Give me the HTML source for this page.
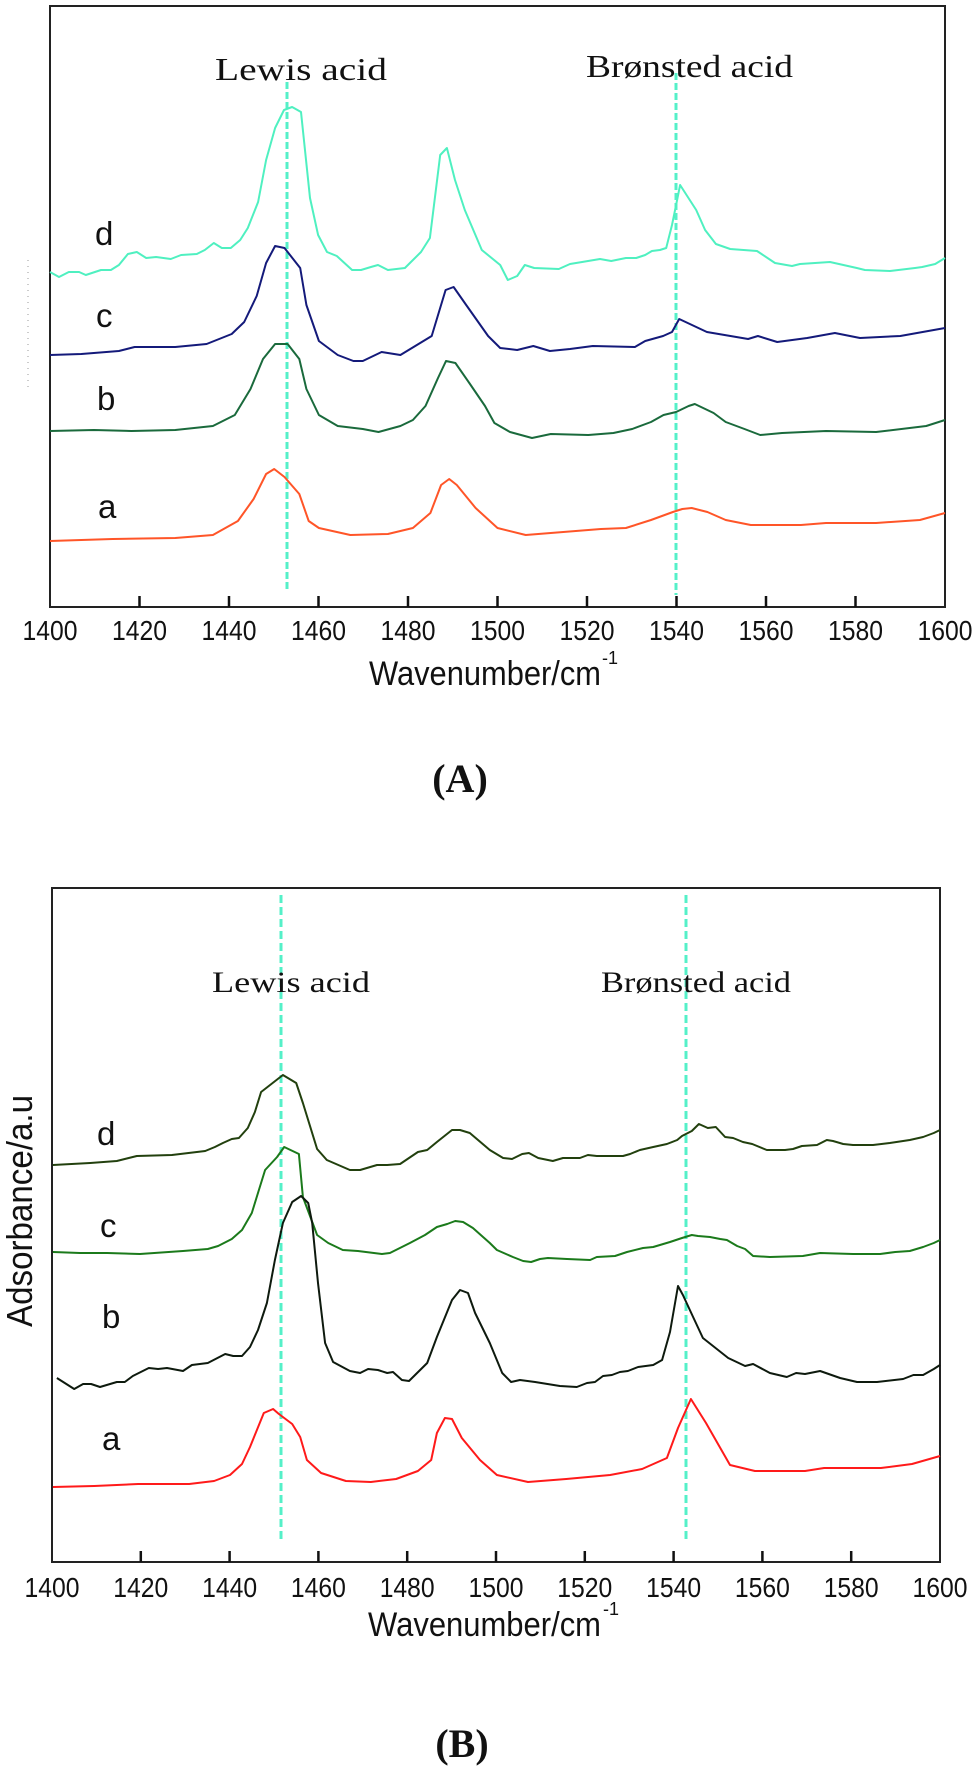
<!DOCTYPE html>
<html><head><meta charset="utf-8"><style>
html,body{margin:0;padding:0;background:#fff;}
svg{display:block;}
.tk{font-family:"Liberation Sans",sans-serif;font-size:28px;fill:#111;}
.ser{font-family:"Liberation Serif",serif;fill:#111;}
.san{font-family:"Liberation Sans",sans-serif;fill:#111;}
</style></head><body>
<svg id="fig" width="980" height="1766" viewBox="0 0 980 1766" xmlns="http://www.w3.org/2000/svg">
<g id="panelA">
<rect x="50" y="6" width="895" height="601" fill="none" stroke="#222" stroke-width="2"/>
<line x1="28" y1="260" x2="28" y2="390" stroke="#999" stroke-width="1" stroke-dasharray="1,5"/>
<line x1="287" y1="82" x2="287" y2="592" stroke="#55f0c8" stroke-width="3" stroke-dasharray="7,3"/>
<line x1="676" y1="73" x2="676" y2="595" stroke="#55f0c8" stroke-width="3" stroke-dasharray="7,3"/>
<text class="ser" x="215" y="80" font-size="32" textLength="172" lengthAdjust="spacingAndGlyphs">Lewis  acid</text>
<text class="ser" x="586" y="77" font-size="32" textLength="207" lengthAdjust="spacingAndGlyphs">Brønsted acid</text>
<text class="san" x="95" y="245" font-size="33">d</text>
<text class="san" x="96" y="327" font-size="33">c</text>
<text class="san" x="97" y="410" font-size="33">b</text>
<text class="san" x="98" y="518" font-size="33">a</text>
<text class="san" x="369" y="685" font-size="34" textLength="232" lengthAdjust="spacingAndGlyphs">Wavenumber/cm</text>
<text class="san" x="602" y="664" font-size="18">-1</text>
<text class="ser" x="460" y="792" font-size="40" font-weight="bold" text-anchor="middle">(A)</text>
</g>
<g id="panelB">
<rect x="52" y="888" width="888" height="674" fill="none" stroke="#222" stroke-width="2"/>
<line x1="281" y1="895" x2="281" y2="1542" stroke="#55f0c8" stroke-width="3" stroke-dasharray="8,4"/>
<line x1="686" y1="895" x2="686" y2="1540" stroke="#55f0c8" stroke-width="3" stroke-dasharray="8,4"/>
<text class="ser" x="212" y="992" font-size="30" textLength="158" lengthAdjust="spacingAndGlyphs">Lewis  acid</text>
<text class="ser" x="601" y="992" font-size="30" textLength="190" lengthAdjust="spacingAndGlyphs">Brønsted acid</text>
<text class="san" x="97" y="1145" font-size="33">d</text>
<text class="san" x="100" y="1237" font-size="33">c</text>
<text class="san" x="102" y="1328" font-size="33">b</text>
<text class="san" x="102" y="1450" font-size="33">a</text>
<text class="san" transform="translate(32,1327) rotate(-90)" font-size="36" textLength="232" lengthAdjust="spacingAndGlyphs">Adsorbance/a.u</text>
<text class="san" x="368" y="1636" font-size="34" textLength="233" lengthAdjust="spacingAndGlyphs">Wavenumber/cm</text>
<text class="san" x="603" y="1615" font-size="18">-1</text>
<text class="ser" x="462" y="1757" font-size="40" font-weight="bold" text-anchor="middle">(B)</text>
</g>
</svg>
<script>
const ticks=[1400,1420,1440,1460,1480,1500,1520,1540,1560,1580,1600];
const tickLabels=["1400","1420","1440","1460","1480","1500","1520","1540","1560","1580","1600"];
// Panel A series (wavenumber, absorbance a.u.)
const aD_wn=[1400,1402,1404.2,1406.5,1408,1411.4,1413.6,1415.4,1417.4,1419.4,1421.5,1423.7,1427,1429.3,1432.8,1434.6,1436.6,1438.4,1440.4,1442.5,1444.2,1446.5,1448.3,1450.3,1452.3,1454.1,1456.1,1458.1,1459.9,1461.9,1464.1,1467.5,1469.5,1471.7,1473.3,1475.5,1479.3,1482.9,1484.9,1487.2,1488.7,1490.5,1492.7,1496.5,1500.6,1502.3,1504.4,1506.1,1508.2,1513.7,1516.2,1518.9,1522.9,1525.4,1528.7,1531,1533,1534.5,1536.3,1537.7,1539,1539.9,1540.8,1544.4,1546.4,1548.8,1552,1558,1562,1565.8,1567.6,1574.3,1580.3,1582.1,1587.7,1593.3,1594.9,1597.8,1600];
const aD_abs=[3.35,3.30,3.35,3.35,3.32,3.37,3.37,3.42,3.53,3.55,3.49,3.50,3.48,3.52,3.53,3.57,3.64,3.59,3.59,3.67,3.79,4.05,4.47,4.79,4.97,5.00,4.95,4.09,3.72,3.55,3.51,3.37,3.37,3.40,3.42,3.37,3.39,3.55,3.69,4.52,4.59,4.27,3.97,3.57,3.42,3.27,3.31,3.42,3.39,3.38,3.43,3.45,3.48,3.46,3.49,3.49,3.52,3.56,3.57,3.59,3.82,4.02,4.22,3.97,3.77,3.63,3.58,3.56,3.44,3.41,3.43,3.45,3.39,3.37,3.36,3.39,3.40,3.43,3.49];
const aC_wn=[1400,1407,1415.4,1418.9,1428,1435,1440.6,1443.4,1446.2,1448.3,1450.3,1452.4,1455.9,1457.3,1460.1,1464.3,1467.8,1469.9,1474.1,1478.3,1485.3,1488.4,1490.2,1493,1497.9,1500.6,1504.4,1508,1511.7,1516.2,1521.3,1530.7,1533,1537,1539,1540.6,1546.8,1556,1558.2,1562.5,1569.2,1575.4,1581,1590,1600];
const aC_abs=[2.52,2.53,2.56,2.60,2.60,2.63,2.73,2.85,3.11,3.44,3.61,3.59,3.39,3.02,2.66,2.52,2.46,2.46,2.55,2.52,2.71,3.17,3.20,3.02,2.71,2.59,2.57,2.61,2.56,2.58,2.61,2.60,2.66,2.71,2.75,2.88,2.75,2.68,2.71,2.65,2.69,2.74,2.69,2.71,2.79];
const aB_wn=[1400,1409.8,1418.2,1428,1436.4,1441.3,1444.8,1447.6,1450.3,1453.1,1455.7,1457.3,1460.1,1464.3,1469.9,1473.4,1478.3,1481.1,1483.9,1486.7,1488.5,1490.6,1493.7,1497.2,1499.3,1502.8,1507.7,1511.9,1520.3,1525.9,1530.1,1534.3,1537.1,1539.9,1542.7,1544.1,1548.3,1551,1555.2,1558.7,1563.6,1573.4,1584.6,1595.8,1600];
const aB_abs=[1.76,1.77,1.76,1.77,1.81,1.92,2.18,2.48,2.63,2.63,2.48,2.18,1.92,1.81,1.78,1.75,1.81,1.87,2.01,2.29,2.46,2.44,2.24,2.01,1.84,1.75,1.69,1.73,1.72,1.74,1.78,1.85,1.92,1.95,2.01,2.03,1.94,1.85,1.78,1.72,1.74,1.76,1.75,1.81,1.87];
const aA_wn=[1400,1414,1428,1436.4,1442,1445.5,1448.3,1450.1,1452.4,1455.7,1457.8,1460.1,1467.1,1475.5,1481.1,1485,1487.4,1489.2,1490.9,1495.1,1500,1506.3,1514.7,1523.1,1528.7,1534.3,1539.2,1541.3,1543.4,1546.9,1551,1556.6,1567.8,1573.4,1584.6,1594.4,1600];
const aA_abs=[0.66,0.68,0.69,0.72,0.86,1.08,1.33,1.38,1.30,1.13,0.86,0.79,0.72,0.73,0.79,0.94,1.22,1.28,1.22,0.99,0.79,0.72,0.75,0.78,0.79,0.87,0.95,0.98,0.99,0.95,0.87,0.82,0.82,0.84,0.84,0.87,0.94];
// Panel B series
const bD_wn=[1400.2,1408.6,1414.6,1419.1,1427,1434.5,1436.7,1438.5,1440.5,1442.1,1444.1,1445.7,1447.1,1452,1455,1456.5,1459.7,1461.9,1467.1,1469.4,1473.2,1475.5,1478.4,1482.4,1484.5,1486.7,1490.1,1491.9,1494.1,1498.6,1501.6,1503.6,1505.9,1507.4,1509.5,1512.8,1515.1,1518.9,1520.7,1522.7,1528.6,1530.2,1532.4,1535.4,1538.5,1540.8,1541.9,1544.1,1545.7,1547.7,1549.5,1551.6,1553.4,1555.6,1557.7,1561,1565.1,1566.9,1568.9,1572.3,1574.5,1575.9,1578.2,1580.4,1584.9,1588.7,1593.2,1596.2,1598.6,1600];
const bD_abs=[3.97,3.99,4.01,4.06,4.07,4.11,4.15,4.19,4.23,4.24,4.34,4.50,4.70,4.87,4.79,4.59,4.13,4.02,3.92,3.92,3.97,3.97,3.98,4.10,4.12,4.20,4.32,4.32,4.29,4.12,4.04,4.03,4.08,4.09,4.04,4.01,4.04,4.04,4.07,4.06,4.06,4.08,4.12,4.15,4.18,4.22,4.26,4.31,4.38,4.34,4.35,4.25,4.24,4.20,4.18,4.12,4.12,4.13,4.16,4.17,4.22,4.21,4.18,4.17,4.17,4.19,4.22,4.25,4.29,4.32];
const bC_wn=[1400.2,1406.3,1412.4,1419.8,1429.5,1435.1,1437.4,1440.5,1442.8,1445,1446.6,1448,1450.7,1452.3,1455.6,1456.5,1459.7,1462.2,1465.5,1468.9,1474.3,1476.1,1480.6,1484,1486.7,1489,1490.8,1492.6,1494.8,1498.6,1500.2,1503.8,1506.1,1507.9,1509.9,1511.7,1516,1521.2,1522.7,1526.8,1529.5,1533.1,1535.4,1539.2,1541.9,1544.1,1545.5,1548.2,1550.5,1552,1554.3,1556.1,1557.9,1561.7,1569.1,1573,1580.4,1586.5,1589.9,1593.2,1596.2,1598.6,1600];
const bC_abs=[3.10,3.09,3.09,3.08,3.11,3.13,3.16,3.23,3.32,3.49,3.72,3.92,4.05,4.15,4.08,3.65,3.27,3.19,3.12,3.11,3.08,3.09,3.19,3.27,3.35,3.38,3.41,3.40,3.34,3.19,3.12,3.05,3.01,3.00,3.03,3.04,3.03,3.02,3.05,3.06,3.10,3.14,3.15,3.20,3.24,3.27,3.26,3.25,3.23,3.22,3.16,3.13,3.06,3.05,3.06,3.09,3.08,3.08,3.10,3.11,3.15,3.19,3.22];
const bB_wn=[1401.1,1405,1407,1408.8,1410.8,1414.6,1416.4,1418.2,1421.8,1423.9,1425.9,1429.5,1431.5,1435.1,1439,1440.8,1442.8,1444.6,1446.4,1448.4,1450.2,1452,1454.1,1456.1,1457.7,1458.6,1459.9,1461.5,1463.3,1467.1,1469.4,1471.2,1473.4,1475.5,1476.8,1478.8,1480.4,1484.5,1486.7,1490.1,1491.9,1493.7,1495.3,1498.6,1501.4,1503.4,1505.4,1508.8,1514.4,1518.2,1520.5,1522.3,1524.1,1526.1,1527.9,1529.7,1532,1535.4,1537.4,1539.2,1541,1542.1,1544.4,1546.6,1552.3,1556.1,1557.9,1561.7,1565.5,1567.6,1569.6,1573,1577.5,1581.3,1585.8,1591.7,1594,1596.2,1598.6,1600];
const bB_abs=[1.84,1.73,1.78,1.78,1.75,1.80,1.80,1.86,1.94,1.93,1.94,1.91,1.97,1.99,2.08,2.06,2.06,2.15,2.32,2.59,3.02,3.39,3.60,3.66,3.59,3.39,2.79,2.19,2.00,1.91,1.89,1.93,1.92,1.89,1.90,1.82,1.81,1.99,2.25,2.62,2.72,2.69,2.49,2.19,1.89,1.80,1.82,1.80,1.76,1.75,1.79,1.80,1.86,1.87,1.90,1.91,1.95,1.97,2.02,2.30,2.76,2.67,2.45,2.24,2.04,1.96,1.98,1.89,1.85,1.89,1.88,1.91,1.84,1.80,1.80,1.83,1.87,1.87,1.93,1.97];
const bA_wn=[1400.2,1409.5,1419.4,1430.9,1436.5,1440.1,1442.8,1444.6,1447.7,1449.8,1451.1,1454.1,1455.9,1457.4,1460.6,1466.2,1471.8,1477.5,1482.4,1485.4,1486.7,1488.5,1490.1,1492.3,1496.4,1500.2,1507.2,1515.8,1525.7,1532.9,1538.5,1541,1543.9,1547.3,1552.7,1558.3,1569.6,1573.9,1586.7,1593.7,1600];
const bA_abs=[0.75,0.76,0.78,0.78,0.81,0.87,0.98,1.15,1.49,1.53,1.48,1.38,1.25,1.02,0.89,0.81,0.80,0.83,0.91,1.02,1.29,1.44,1.43,1.24,1.02,0.87,0.80,0.83,0.87,0.93,1.04,1.34,1.63,1.39,0.97,0.91,0.91,0.94,0.94,0.98,1.06];

const NS='http://www.w3.org/2000/svg';
const xA=v=>50+(v-1400)*895/200, yA=a=>607-a*100;
const xB=v=>52+(v-1400)*888/200, yB=a=>1562-a*100;

function drawSeries(gId,wn,abs,xf,yf,color,name){
  const p=document.createElementNS(NS,'polyline');
  p.setAttribute('points',wn.map((w,i)=>xf(w).toFixed(1)+','+yf(abs[i]).toFixed(1)).join(' '));
  p.setAttribute('fill','none');p.setAttribute('stroke',color);p.setAttribute('stroke-width','2');
  p.setAttribute('stroke-linejoin','round');
  
  
  document.getElementById(gId).appendChild(p);
}
function drawAxis(gId,xf,axisY,labelY,suffix){
  const g=document.getElementById(gId);
  ticks.forEach((t,i)=>{
    if(i>0&&i<ticks.length-1){
      const l=document.createElementNS(NS,'line');
      l.setAttribute('x1',xf(t));l.setAttribute('x2',xf(t));
      l.setAttribute('y1',axisY);l.setAttribute('y2',axisY-11);
      l.setAttribute('stroke','#111');l.setAttribute('stroke-width','2.5');
      
      
      g.appendChild(l);
    }
    const tx=document.createElementNS(NS,'text');
    tx.setAttribute('x',xf(t));tx.setAttribute('y',labelY);
    tx.setAttribute('text-anchor','middle');tx.setAttribute('class','tk');
    tx.setAttribute('textLength','55');tx.setAttribute('lengthAdjust','spacingAndGlyphs');
    tx.textContent=tickLabels[i];
    
    
    g.appendChild(tx);
  });
}
drawAxis('panelA',xA,607,640,'a');
drawAxis('panelB',xB,1562,1597,'b');
drawSeries('panelA',aD_wn,aD_abs,xA,yA,'#4ff0c0','series-d-a');
drawSeries('panelA',aC_wn,aC_abs,xA,yA,'#141a7a','series-c-a');
drawSeries('panelA',aB_wn,aB_abs,xA,yA,'#1a6a3c','series-b-a');
drawSeries('panelA',aA_wn,aA_abs,xA,yA,'#ff5528','series-a-a');
drawSeries('panelB',bD_wn,bD_abs,xB,yB,'#22400e','series-d-b');
drawSeries('panelB',bC_wn,bC_abs,xB,yB,'#1b7a1b','series-c-b');
drawSeries('panelB',bB_wn,bB_abs,xB,yB,'#0e1a0e','series-b-b');
drawSeries('panelB',bA_wn,bA_abs,xB,yB,'#ff1a1a','series-a-b');
</script>
</body></html>
